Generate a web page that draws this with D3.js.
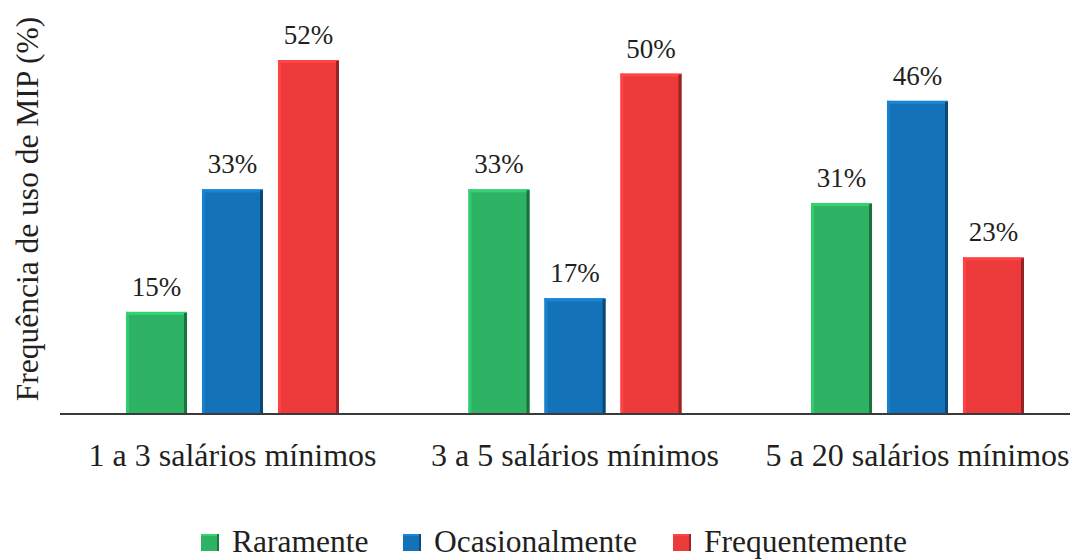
<!DOCTYPE html>
<html>
<head>
<meta charset="utf-8">
<script src="https://cdn.jsdelivr.net/npm/d3@7"></script>
<style>
  html, body { margin: 0; padding: 0; background: #fff; }
  text { font-family: "Liberation Serif", "Times New Roman", Tinos, serif; }
</style>
</head>
<body>
<svg id="chart" width="1074" height="560"></svg>
<script>
// Income brackets and frequency of MIP use (%)
const categories = ["1 a 3 salários mínimos", "3 a 5 salários mínimos", "5 a 20 salários mínimos"];
const seriesNames = ["Raramente", "Ocasionalmente", "Frequentemente"];
const raramente = [15, 33, 31];
const ocasionalmente = [33, 17, 46];
const frequentemente = [52, 50, 23];
const seriesColors = ["#2db363", "#1472b8", "#ec3a3b"];
const yTitle = "Frequência de uso de MIP (%)";

const seriesValues = [raramente, ocasionalmente, frequentemente];

function draw() {
  const svg = d3.select("#chart");
  svg.selectAll("*").remove();
  const baseY = 414;

  const x0 = d3.scaleBand().domain(categories).range([61.25, 1088.75]).paddingInner(0).paddingOuter(0);
  const x1 = d3.scaleBand().domain(seriesNames).range([0, x0.bandwidth()]).paddingInner(0.197).paddingOuter(0.852);
  const y = d3.scaleLinear().domain([0, 52]).range([baseY, 60]);

  // darker / lighter shades for the bevelled bar edges
  const shade = (c, k) => d3.color(c).darker(k).formatHex();
  const tint = (c, k) => d3.color(c).brighter(k).formatHex();

  const rows = [];
  categories.forEach((cat, i) => {
    seriesNames.forEach((s, j) => {
      rows.push({ cat, series: s, value: seriesValues[j][i], color: seriesColors[j] });
    });
  });

  const bars = svg.append("g").selectAll("g.bar").data(rows).join("g").attr("class", "bar")
    .attr("transform", d => `translate(${x0(d.cat) + x1(d.series)},0)`);

  const bw = x1.bandwidth();
  bars.append("rect")
    .attr("x", 0).attr("y", d => y(d.value))
    .attr("width", bw).attr("height", d => baseY - y(d.value))
    .attr("fill", d => d.color);
  // left highlight
  bars.append("rect")
    .attr("x", 0).attr("y", d => y(d.value))
    .attr("width", 3).attr("height", d => baseY - y(d.value))
    .attr("fill", d => tint(d.color, 0.35));
  // top highlight
  bars.append("rect")
    .attr("x", 0).attr("y", d => y(d.value))
    .attr("width", bw).attr("height", 3)
    .attr("fill", d => tint(d.color, 0.45));
  // right shadow
  bars.append("rect")
    .attr("x", bw - 3).attr("y", d => y(d.value) + 1)
    .attr("width", 3).attr("height", d => baseY - y(d.value) - 1)
    .attr("fill", d => shade(d.color, 1.3));

  // value labels
  bars.append("text")
    .attr("x", bw / 2).attr("y", d => y(d.value) - 16)
    .attr("text-anchor", "middle")
    .style("font-family", '"Liberation Serif"')
    .style("font-size", "27px").attr("fill", "#231f20")
    .text(d => d.value + "%");

  // baseline
  svg.append("line")
    .attr("x1", 60).attr("x2", 1070).attr("y1", baseY).attr("y2", baseY)
    .attr("stroke", "#3a3a3a").attr("stroke-width", 2);

  // category labels
  svg.append("g").selectAll("text").data(categories).join("text")
    .attr("x", d => x0(d) + x0.bandwidth() / 2)
    .attr("y", 466)
    .attr("text-anchor", "middle")
    .style("font-family", '"Liberation Serif"')
    .style("font-size", "32px").attr("fill", "#231f20")
    .text(d => d);

  // y axis title
  svg.append("text")
    .attr("transform", "translate(38,209) rotate(-90)")
    .attr("text-anchor", "middle")
    .style("font-family", '"Liberation Serif"')
    .style("font-size", "31.5px").attr("fill", "#231f20")
    .text(yTitle);

  // legend
  const legendX = [201, 403, 673];
  const legend = svg.append("g").selectAll("g").data(seriesNames).join("g")
    .attr("transform", (d, i) => `translate(${legendX[i]},534)`);
  legend.append("rect").attr("width", 18).attr("height", 17)
    .attr("fill", (d, i) => seriesColors[i]);
  legend.append("rect").attr("width", 18).attr("height", 2)
    .attr("fill", (d, i) => tint(seriesColors[i], 0.45));
  legend.append("rect").attr("x", 16).attr("width", 2).attr("height", 17)
    .attr("fill", (d, i) => shade(seriesColors[i], 1.2));
  legend.append("text")
    .attr("x", 31).attr("y", 18)
    .style("font-family", '"Liberation Serif"')
    .style("font-size", "31.5px").attr("fill", "#231f20")
    .text(d => d);
}

draw();
if (document.fonts && document.fonts.load) {
  document.fonts.load('32px "Liberation Serif"').then(draw, draw);
}
</script>
</body>
</html>
